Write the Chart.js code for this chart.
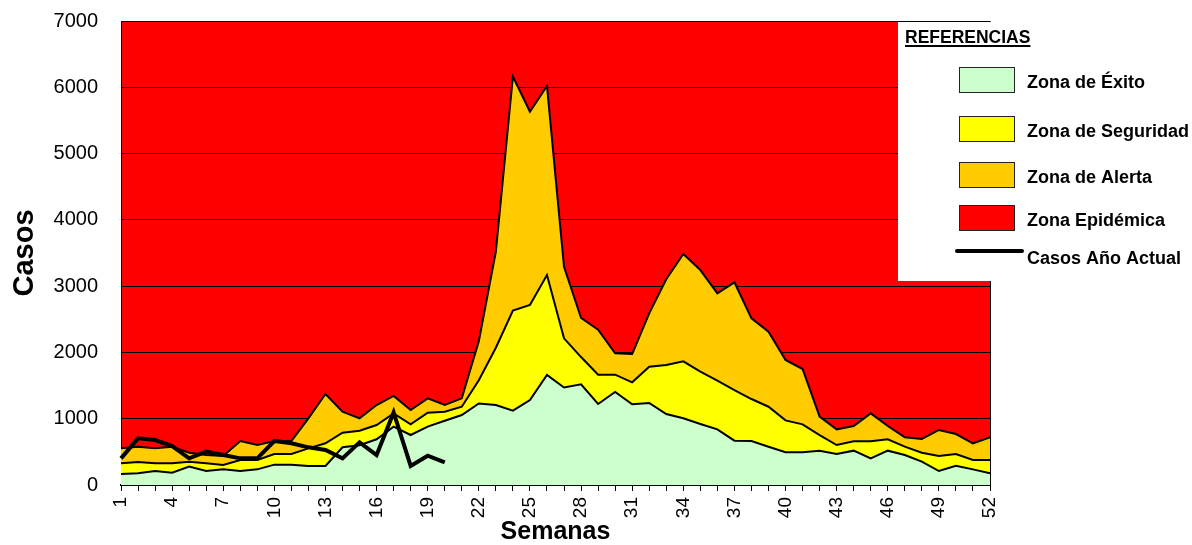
<!DOCTYPE html>
<html>
<head>
<meta charset="utf-8">
<script src="https://cdn.jsdelivr.net/npm/chart.js@4.4.1/dist/chart.umd.min.js"></script>
<style>
  html, body { margin: 0; padding: 0; background: #fff; }
  #wrap { width: 1192px; height: 545px; position: relative; }
</style>
</head>
<body>
<div id="wrap"><canvas id="c"></canvas></div>
<script>
// Canal endémico: zonas por semana epidemiológica + casos del año actual
const semanas = Array.from({ length: 52 }, (_, i) => String(i + 1));

// límite superior de cada zona (casos)
const zonaExito = [166, 176, 211, 186, 277, 211, 236, 211, 236, 307, 307, 287, 287, 570, 600, 690, 880, 754, 880, 970,
  1056, 1230, 1207, 1121, 1282, 1660, 1470, 1519, 1222, 1403, 1217, 1237, 1071, 1006, 920, 840, 669, 664, 578, 493,
  493, 518, 468, 518, 402, 518, 452, 352, 211, 291, 236, 176];
const zonaSeguridad = [327, 347, 327, 327, 352, 327, 302, 377, 377, 468, 468, 553, 629, 790, 820, 905, 1081, 915, 1091, 1106,
  1181, 1580, 2070, 2630, 2715, 3168, 2213, 1930, 1664, 1664, 1549, 1785, 1810, 1866, 1709, 1574, 1433, 1297, 1181, 975,
  915, 754, 603, 659, 659, 689, 578, 487, 437, 468, 377, 377];
const zonaAlerta = [553, 578, 553, 578, 487, 452, 437, 664, 603, 664, 664, 1006, 1373, 1106, 1006, 1207, 1343, 1131, 1307, 1207,
  1307, 2170, 3520, 6160, 5632, 6019, 3293, 2520, 2343, 1986, 1976, 2590, 3103, 3485, 3243, 2892, 3058, 2514, 2313, 1886,
  1750, 1031, 840, 890, 1081, 890, 719, 694, 830, 769, 629, 719];
const casosActual = [402, 704, 679, 588, 402, 503, 452, 402, 402, 664, 629, 568, 528, 402, 644, 452, 1095, 287, 442, 342];

const yTicks = [0, 1000, 2000, 3000, 4000, 5000, 6000, 7000];

const C_EXITO = '#CCFFCC', C_SEG = '#FFFF00', C_ALERTA = '#FFCC00', C_EPI = '#FF0000';
const FONT = '"Liberation Sans", Arial, sans-serif';

// fondo rojo = zona epidémica (por encima de la zona de alerta)
const epidemicaBg = {
  id: 'epidemicaBg',
  beforeDraw(chart) {
    const { ctx, chartArea: a } = chart;
    ctx.save();
    ctx.fillStyle = C_EPI;
    ctx.fillRect(a.left, a.top, a.right - a.left, a.bottom - a.top);
    ctx.restore();
  },
  afterDatasetsDraw(chart) {
    const { ctx, chartArea: a } = chart;
    ctx.save();
    ctx.strokeStyle = '#000';
    ctx.lineWidth = 1;
    ctx.beginPath();
    ctx.moveTo(a.left, a.top + 0.5);
    ctx.lineTo(a.right + 0.5, a.top + 0.5);
    ctx.lineTo(a.right + 0.5, a.bottom);
    ctx.stroke();
    ctx.restore();
  }
};

// cuadro de referencias
const referencias = {
  id: 'referencias',
  afterDraw(chart) {
    const ctx = chart.ctx;
    const top = chart.chartArea.top;
    ctx.save();
    ctx.fillStyle = '#fff';
    ctx.fillRect(898, top + 1, 294, 259);

    ctx.fillStyle = '#000';
    ctx.font = 'bold 17.5px ' + FONT;
    ctx.textBaseline = 'alphabetic';
    ctx.textAlign = 'left';
    ctx.fillText('REFERENCIAS', 905, 43);
    const w = ctx.measureText('REFERENCIAS').width;
    ctx.fillRect(905, 45, w, 2);

    const items = [
      { label: 'Zona de Éxito', color: C_EXITO, y: 80 },
      { label: 'Zona de Seguridad', color: C_SEG, y: 129 },
      { label: 'Zona de Alerta', color: C_ALERTA, y: 175 },
      { label: 'Zona Epidémica', color: C_EPI, y: 218 },
    ];
    ctx.font = 'bold 18px ' + FONT;
    ctx.textBaseline = 'middle';
    for (const it of items) {
      ctx.fillStyle = it.color;
      ctx.fillRect(959, it.y - 13, 56, 26);
      ctx.strokeStyle = '#222';
      ctx.lineWidth = 1;
      ctx.strokeRect(959.5, it.y - 12.5, 55, 25);
      ctx.fillStyle = '#000';
      ctx.fillText(it.label, 1027, it.y + 3);
    }
    ctx.strokeStyle = '#000';
    ctx.lineWidth = 4;
    ctx.lineCap = 'round';
    ctx.beginPath();
    ctx.moveTo(957, 251);
    ctx.lineTo(1022, 251);
    ctx.stroke();
    ctx.fillText('Casos Año Actual', 1027, 259);
    ctx.restore();
  }
};

const zona = (label, data, color, fill) => ({
  label, data, fill,
  backgroundColor: color,
  borderColor: '#000',
  borderWidth: 2,
  pointRadius: 0,
  tension: 0,
  order: 1,
});

new Chart(document.getElementById('c'), {
  type: 'line',
  data: {
    labels: semanas,
    datasets: [
      zona('Zona de Éxito', zonaExito, C_EXITO, 'origin'),
      zona('Zona de Seguridad', zonaSeguridad, C_SEG, '-1'),
      zona('Zona de Alerta', zonaAlerta, C_ALERTA, '-1'),
      {
        label: 'Casos Año Actual',
        data: casosActual,
        borderColor: '#000',
        borderWidth: 4,
        pointRadius: 0,
        fill: false,
        tension: 0,
        order: 0,
      },
    ],
  },
  options: {
    responsive: true,
    maintainAspectRatio: false,
    animation: false,
    layout: { padding: { top: 21, right: 202, left: 0, bottom: 0 } },
    plugins: { legend: { display: false }, tooltip: { enabled: false } },
    scales: {
      x: {
        offset: false,
        grid: { drawOnChartArea: false, drawTicks: true, tickLength: 6, color: '#000' },
        border: { color: '#000', width: 2 },
        ticks: {
          autoSkip: false, maxRotation: 90, minRotation: 90, padding: 6,
          color: '#000', font: { family: FONT, size: 19 },
          callback: (v, i) => (i % 3 === 0 ? semanas[i] : ''),
        },
        title: {
          display: true, text: 'Semanas', color: '#000',
          font: { family: FONT, size: 25, weight: 'bold', lineHeight: 1 },
          padding: { top: 0, bottom: 0 },
        },
        afterFit: (s) => { s.height = 60; s.paddingTop = 0; s.paddingBottom = 0; },
      },
      y: {
        min: 0, max: 7000,
        afterBuildTicks: (s) => { s.ticks = yTicks.map(v => ({ value: v })); },
        grid: { color: '#000', lineWidth: 1, drawTicks: false },
        border: { color: '#000', width: 1 },
        ticks: {
          padding: 23, color: '#000', font: { family: FONT, size: 20 },
          callback: (v) => String(v),
        },
        title: {
          display: true, text: 'Casos', color: '#000',
          font: { family: FONT, size: 29, weight: 'bold', lineHeight: 1 },
          padding: { top: 10, bottom: 0 },
        },
        afterFit: (s) => { s.width = 121; s.paddingTop = 0; s.paddingBottom = 0; },
      },
    },
  },
  plugins: [epidemicaBg, referencias],
});
</script>
</body>
</html>
